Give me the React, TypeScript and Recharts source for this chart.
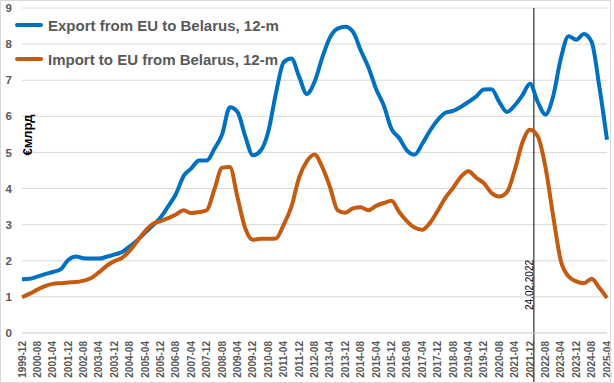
import React from "react";
import {
  LineChart,
  Line,
  XAxis,
  YAxis,
  CartesianGrid,
  ReferenceLine,
} from "recharts";

// one value every 4 months, starting 1999-12 (month index 0)
const exportValues = [
  1.49, 1.5, 1.56, 1.63, 1.69, 1.76, 2.02, 2.12, 2.07, 2.06,
  2.06, 2.11, 2.17, 2.24, 2.4, 2.57, 2.78, 2.98, 3.2, 3.51,
  3.85, 4.35, 4.56, 4.78, 4.78, 5.1, 5.5, 6.25, 6.12, 5.45,
  4.92, 5.05, 5.58, 6.65, 7.5, 7.6, 7.1, 6.62, 6.95, 7.62,
  8.18, 8.43, 8.48, 8.34, 7.83, 7.36, 6.76, 6.3, 5.65, 5.4,
  5.06, 4.94, 5.24, 5.6, 5.9, 6.1, 6.15, 6.26, 6.4, 6.55,
  6.74, 6.75, 6.4, 6.12, 6.3, 6.58, 6.9, 6.4, 6.05, 6.55,
  7.6, 8.22, 8.12, 8.28, 8.06, 6.83, 5.35,
];

const importValues = [
  0.99, 1.09, 1.2, 1.3, 1.36, 1.38, 1.4, 1.41, 1.45, 1.52,
  1.68, 1.86, 1.99, 2.08, 2.28, 2.55, 2.82, 3.02, 3.1, 3.18,
  3.28, 3.4, 3.32, 3.35, 3.4, 3.98, 4.58, 4.6, 3.75, 2.9,
  2.58, 2.61, 2.61, 2.62, 3.0, 3.5, 4.3, 4.75, 4.94, 4.6,
  4.05, 3.4, 3.33, 3.45, 3.48, 3.4, 3.52, 3.6, 3.66, 3.35,
  3.1, 2.92, 2.86, 3.05, 3.38, 3.74, 4.02, 4.32, 4.48, 4.3,
  4.15, 3.88, 3.78, 3.9, 4.5, 5.27, 5.63, 5.45, 4.6, 3.25,
  2.0, 1.57, 1.43, 1.38, 1.5, 1.25, 0.97,
];

// axis labels, one every 8 months
const xLabels = [
  "1999-12", "2000-08", "2001-04", "2001-12", "2002-08", "2003-04", "2003-12",
  "2004-08", "2005-04", "2005-12", "2006-08", "2007-04", "2007-12", "2008-08",
  "2009-04", "2009-12", "2010-08", "2011-04", "2011-12", "2012-08", "2013-04",
  "2013-12", "2014-08", "2015-04", "2015-12", "2016-08", "2017-04", "2017-12",
  "2018-08", "2019-04", "2019-12", "2020-08", "2021-04", "2021-12", "2022-08",
  "2023-04", "2023-12", "2024-08", "2025-04",
];

const yTicks = [0, 1, 2, 3, 4, 5, 6, 7, 8, 9];

const warMonth = 266; // 2022-02
const warLabel = "24.02.2022";

const seriesNames = [
  "Export from EU to Belarus, 12-m",
  "Import to EU from Belarus, 12-m",
];
const colors = ["#0070C0", "#C55A11"];

const data = exportValues.map((v, i) => ({
  t: i * 4,
  exp: v,
  imp: importValues[i],
}));

const xTicks = xLabels.map((_, i) => i * 8);

const FONT = "'Liberation Sans', Arial, sans-serif";

const XTick = (props: any) => {
  const { x, payload } = props;
  const label = xLabels[Math.round(payload.value / 8)];
  return (
    <g transform={`translate(${x},341)`}>
      <text
        transform="rotate(-90)"
        textAnchor="end"
        dy="0.35em"
        fontSize={10}
        fontWeight="bold"
        fontFamily={FONT}
        fill="#595959"
      >
        {label}
      </text>
    </g>
  );
};

const WarLine = (props: any) => {
  const x = props.x1;
  const top = Math.min(props.y1, props.y2);
  return (
    <g>
      <line x1={x} y1={top} x2={x} y2={383} stroke="#000" strokeWidth={1} />
      <g transform={`translate(${x - 4.5},310)`}>
        <text
          transform="rotate(-90)"
          textAnchor="start"
          dy="0.35em"
          fontSize={10}
          fontFamily={FONT}
          fill="#000"
        >
          {warLabel}
        </text>
      </g>
    </g>
  );
};

export default function App() {
  return (
    <div
      style={{
        position: "absolute",
        left: 0,
        top: 0,
        width: 614,
        height: 383,
        background: "#fff",
        overflow: "hidden",
      }}
    >
      <LineChart
        width={614}
        height={383}
        data={data}
        margin={{ top: 8, right: 7, bottom: 0, left: 0 }}
      >
        <CartesianGrid vertical={false} stroke="#d9d9d9" />
        <XAxis
          dataKey="t"
          type="number"
          domain={[0, 304]}
          ticks={xTicks}
          interval={0}
          tick={<XTick />}
          tickLine={false}
          axisLine={{ stroke: "#d9d9d9" }}
          height={50}
        />
        <YAxis
          domain={[0, 9]}
          ticks={yTicks}
          width={22}
          tickLine={false}
          axisLine={false}
          tickSize={0}
          tickMargin={10}
          tick={{
            fontSize: 11.5,
            fontWeight: "bold",
            fontFamily: FONT,
            fill: "#595959",
          }}
        />
        <ReferenceLine x={warMonth} shape={<WarLine />} ifOverflow="visible" />
        <Line
          type="monotone"
          dataKey="exp"
          name={seriesNames[0]}
          stroke={colors[0]}
          strokeWidth={4}
          dot={false}
          isAnimationActive={false}
        />
        <Line
          type="monotone"
          dataKey="imp"
          name={seriesNames[1]}
          stroke={colors[1]}
          strokeWidth={4}
          dot={false}
          isAnimationActive={false}
        />
      </LineChart>

      {/* legend */}
      <div
        style={{
          position: "absolute",
          left: 15,
          top: 8,
          fontFamily: FONT,
          fontSize: 15,
          fontWeight: "bold",
          color: "#595959",
        }}
      >
        {seriesNames.map((name, i) => (
          <div
            key={name}
            style={{ display: "flex", alignItems: "center", height: 34 }}
          >
            <span
              style={{
                display: "inline-block",
                width: 28,
                height: 4.5,
                borderRadius: 2,
                background: colors[i],
                marginRight: 5,
              }}
            />
            <span>{name}</span>
          </div>
        ))}
      </div>

      {/* y axis title */}
      <div
        style={{
          position: "absolute",
          left: 27,
          top: 135,
          transform: "translate(-50%, -50%) rotate(-90deg)",
          fontFamily: FONT,
          fontSize: 13,
          fontWeight: "bold",
          color: "#000",
          whiteSpace: "nowrap",
        }}
      >
        €млрд
      </div>

      {/* chart border */}
      <div
        style={{
          position: "absolute",
          left: 0,
          top: 0,
          width: 611,
          height: 383,
          border: "1px solid #d9d9d9",
          boxSizing: "border-box",
          pointerEvents: "none",
        }}
      />
    </div>
  );
}
